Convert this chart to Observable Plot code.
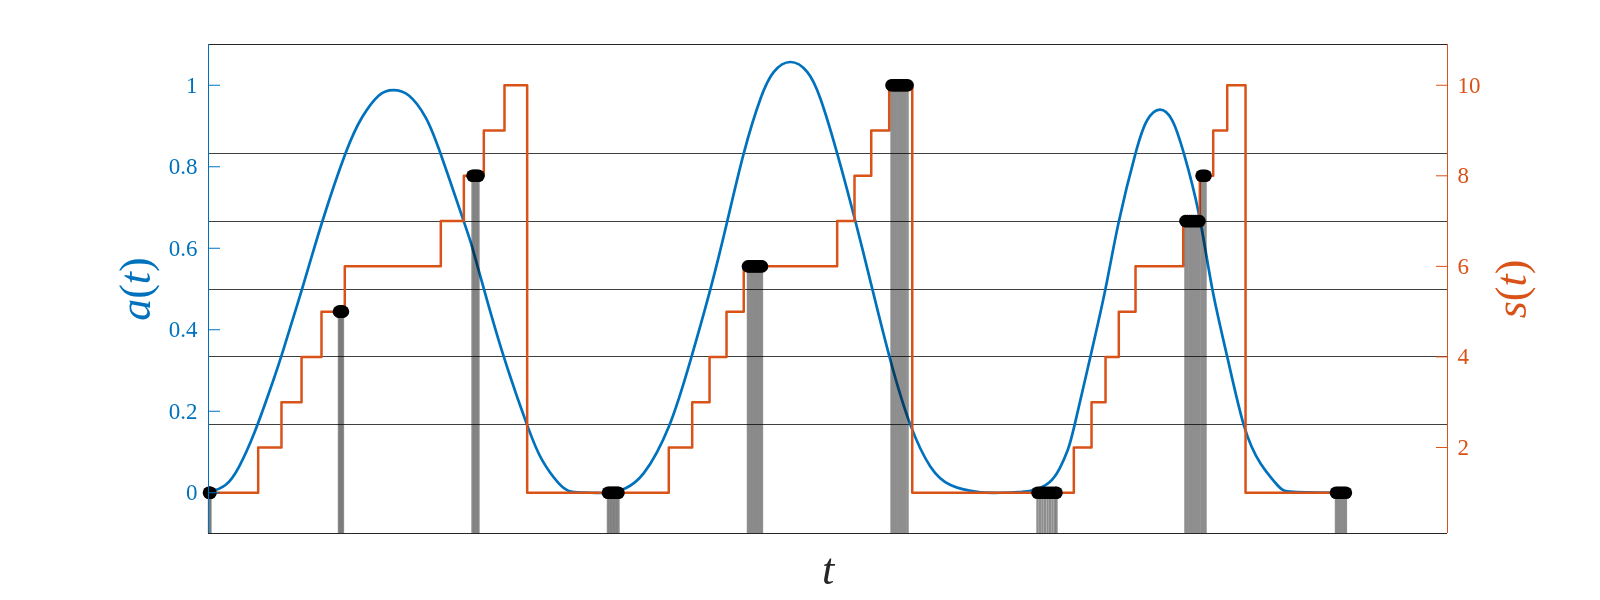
<!DOCTYPE html>
<html>
<head>
<meta charset="utf-8">
<script src="https://cdn.jsdelivr.net/npm/d3@7"></script>
<script src="https://cdn.jsdelivr.net/npm/@observablehq/plot@0.6"></script>
<style>
  html, body { margin: 0; padding: 0; background: #ffffff; }
  #chart svg { display: block; }
</style>
</head>
<body>
<div id="chart"></div>
<script>
// ---- data ----
// smooth signal a(t)
const blueT = [0, 0.137, 0.245, 0.379, 0.514, 0.595, 0.756, 0.918, 1.106, 1.241,
  1.375, 1.491, 1.617, 1.751, 1.872, 2.048, 2.128, 2.222, 2.383, 2.572,
  2.693, 2.827, 2.935, 3.083, 3.245, 3.366, 3.513, 3.715, 3.890, 4.052,
  4.186, 4.320, 4.455, 4.563, 4.697, 4.832, 4.939, 5.074, 5.222, 5.357,
  5.504, 5.666, 5.827, 5.989, 6.204, 6.392, 6.634, 6.785, 6.870, 6.935,
  6.990, 7.118, 7.240, 7.347, 7.482, 7.576, 7.678, 7.778, 7.872, 7.993,
  8.101, 8.222, 8.356, 8.491, 8.626, 8.759, 9.180];
const blueA = [0, 0.019, 0.063, 0.154, 0.268, 0.342, 0.501, 0.665, 0.833, 0.922,
  0.975, 0.988, 0.975, 0.922, 0.833, 0.677, 0.603, 0.501, 0.334, 0.166,
  0.080, 0.023, 0.002, 0, 0, 0.011, 0.048, 0.162, 0.325, 0.501,
  0.665, 0.833, 0.967, 1.033, 1.057, 1.033, 0.967, 0.833, 0.665, 0.501,
  0.325, 0.166, 0.064, 0.019, 0.002, 0, 0.005, 0.025, 0.060, 0.105,
  0.166, 0.334, 0.501, 0.665, 0.833, 0.914, 0.940, 0.914, 0.833, 0.685,
  0.501, 0.334, 0.166, 0.072, 0.019, 0.002, 0];

// staircase s(t) (value holds from each time until the next)
const stepT = [0, 0.401, 0.589, 0.751, 0.912, 1.100, 1.875, 2.061, 2.222, 2.389,
  2.572, 3.715, 3.904, 4.044, 4.181, 4.320, 5.074, 5.214, 5.349, 5.494,
  5.680, 6.984, 7.127, 7.240, 7.347, 7.482, 7.867, 8.001, 8.109, 8.222,
  8.370, 9.180];
const stepS = [1, 2, 3, 4, 5, 6, 7, 8, 9, 10,
  1, 2, 3, 4, 5, 6, 7, 8, 9, 10,
  1, 2, 3, 4, 5, 6, 7, 8, 9, 10,
  1, 1];

// sampling instants and the s value read at each
const sampleT = [0.004, 0.010, 0.016,
  1.053, 1.061, 1.069, 1.077, 1.085,
  2.131, 2.143, 2.155, 2.167, 2.179,
  3.224, 3.237, 3.249, 3.261, 3.273, 3.285, 3.297, 3.309,
  4.354, 4.371, 4.387, 4.403, 4.419, 4.435, 4.451, 4.467,
  5.513, 5.529, 5.545, 5.561, 5.577, 5.593, 5.609, 5.625, 5.642,
  6.691, 6.711, 6.731, 6.751, 6.772, 6.792, 6.812, 6.832, 6.844,
  7.885, 7.901, 7.918, 7.934, 7.950, 7.966, 7.982, 7.998, 8.015, 8.031, 8.047,
  9.100, 9.116, 9.132, 9.148, 9.164, 9.180];
const sampleS = [1, 1, 1,
  5, 5, 5, 5, 5,
  8, 8, 8, 8, 8,
  1, 1, 1, 1, 1, 1, 1, 1,
  6, 6, 6, 6, 6, 6, 6, 6,
  10, 10, 10, 10, 10, 10, 10, 10, 10,
  1, 1, 1, 1, 1, 1, 1, 1, 1,
  7, 7, 7, 7, 7, 7, 7, 7, 8, 8, 8,
  1, 1, 1, 1, 1, 1];

// horizontal threshold levels (in a units)
const thresholds = [0.1667, 0.3333, 0.5, 0.6667, 0.8333];

// tick values
const aTicks = [0, 0.2, 0.4, 0.6, 0.8, 1];
const sTicks = [2, 4, 6, 8, 10];
const tDomain = [0, 10];
const aDomain = [-0.1, 1.1];

// ---- build ----
const BLUE = "#0072BD";
const ORANGE = "#D95319";
const DARK = "#262626";
const FONT = "'Liberation Serif', 'DejaVu Serif', serif";

// right axis s maps linearly onto the left axis a: s = 1 + 9a
const sToA = s => (s - 1) / 9;
const aToS = a => 1 + 9 * a;

const blue = blueT.map((t, i) => ({t, a: blueA[i]}));
const steps = stepT.map((t, i) => ({t, a: sToA(stepS[i])}));
const samples = sampleT.map((t, i) => ({t, a: sToA(sampleS[i])}));

const plot = Plot.plot({
  width: 1600,
  height: 600,
  marginLeft: 208,
  marginRight: 153,
  marginTop: 44,
  marginBottom: 67,
  style: {fontFamily: FONT, background: "#ffffff"},
  x: {domain: tDomain, axis: null},
  y: {domain: aDomain, axis: null},
  marks: [
    Plot.ruleY(thresholds, {stroke: "#404040", strokeWidth: 1, shapeRendering: "crispEdges"}),
    Plot.line(blue, {x: "t", y: "a", stroke: BLUE, strokeWidth: 2.7, curve: "natural"}),
    Plot.line(steps, {x: "t", y: "a", stroke: ORANGE, strokeWidth: 2.5, curve: "step-after"}),
    Plot.ruleX(samples, {x: "t", y1: aDomain[0], y2: "a", stroke: "#7a7a7a", strokeOpacity: 0.85, strokeWidth: 2.4, ariaDescription: "bars"}),
    Plot.dot(samples, {x: "t", y: "a", r: 6.3, fill: "#000000", stroke: "none"}),
    // frame
    Plot.ruleY([aDomain[0], aDomain[1]], {stroke: DARK, strokeWidth: 1, shapeRendering: "crispEdges"}),
    Plot.ruleX([tDomain[0]], {stroke: BLUE, strokeWidth: 1, shapeRendering: "crispEdges"}),
    Plot.ruleX([tDomain[1]], {stroke: ORANGE, strokeWidth: 1, shapeRendering: "crispEdges"}),
    // left axis a(t)
    Plot.axisY(aTicks, {anchor: "left", label: null, color: BLUE, tickSize: -12, tickPadding: 23,
      fontSize: 23, fontFamily: FONT, tickFormat: d => String(d)}),
    // right axis s(t)
    Plot.axisY(sTicks.map(sToA), {anchor: "right", label: null, color: ORANGE, tickSize: -12, tickPadding: 22,
      fontSize: 23, fontFamily: FONT, tickFormat: d => String(Math.round(aToS(d)))}),
    // axis labels
    Plot.text(["a(t)"], {text: d => d, frameAnchor: "left", dx: -73, rotate: -90,
      textAnchor: "middle", lineAnchor: "middle", fontSize: 44, fill: BLUE, fontFamily: FONT, ariaDescription: "mathlabel"}),
    Plot.text(["s(t)"], {text: d => d, frameAnchor: "right", dx: 64, rotate: -90,
      textAnchor: "middle", lineAnchor: "middle", fontSize: 44, fill: ORANGE, fontFamily: FONT, ariaDescription: "mathlabel"}),
    Plot.text(["t"], {text: d => d, frameAnchor: "bottom", dy: 50,
      textAnchor: "middle", lineAnchor: "bottom", fontSize: 44, fill: DARK, fontFamily: FONT, ariaDescription: "mathlabel"})
  ]
});

// sample bars blend like the original (darken what lies beneath)
plot.querySelectorAll('g[aria-description="bars"]').forEach(g => { g.style.mixBlendMode = "multiply"; });

// math-style labels: italic letters, upright parentheses
d3.select(plot).selectAll('g[aria-description="mathlabel"] text').each(function () {
  const el = d3.select(this);
  const str = this.textContent;
  el.text(null);
  for (const ch of str) {
    el.append("tspan").attr("font-style", /[a-z]/i.test(ch) ? "italic" : "normal").text(ch);
  }
});

document.getElementById("chart").appendChild(plot);
</script>
</body>
</html>
